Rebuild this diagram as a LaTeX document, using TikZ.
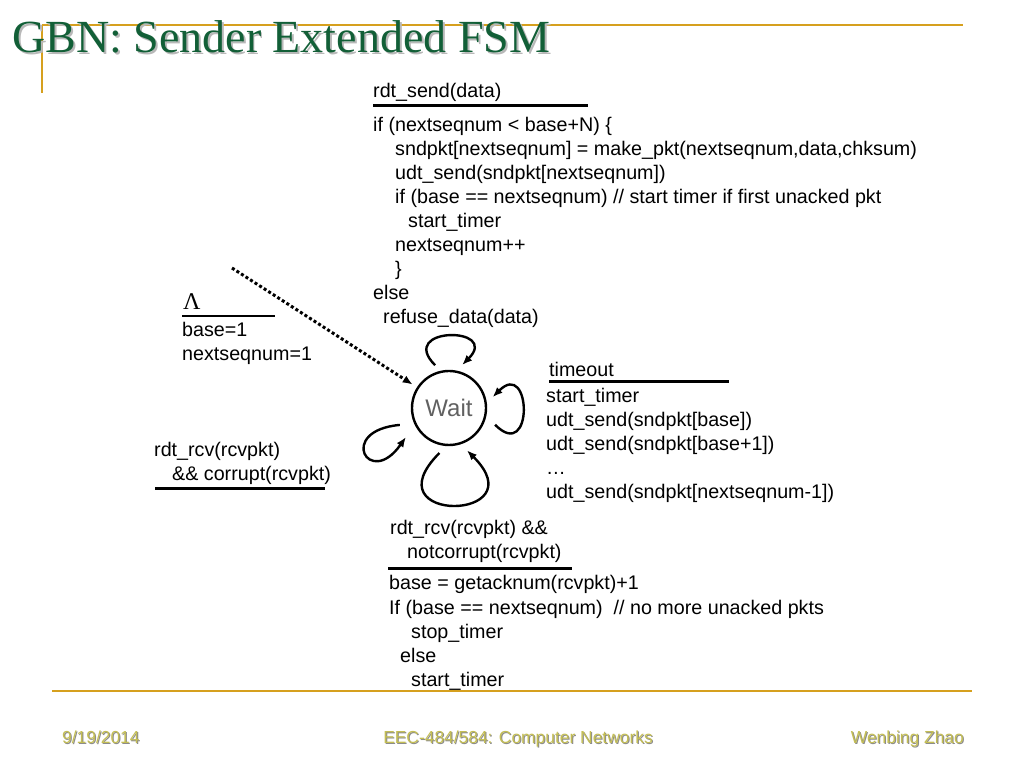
\documentclass[tikz,border=0pt]{standalone}
\usepackage{fontspec}
\setmainfont{Liberation Serif}
\setsansfont{Liberation Sans}
\usetikzlibrary{arrows.meta}

\definecolor{slidegreen}{RGB}{18,95,55}
\definecolor{slidegold}{RGB}{214,160,30}
\definecolor{footolive}{RGB}{196,190,84}

% text with a soft drop shadow behind it
\newcommand\dropshadow[3]{\rlap{\hspace*{#1}\raisebox{-#1}{\textcolor{#2}{#3}}}#3}

\begin{document}
\begin{tikzpicture}[
		x=1pt, y=1pt,
		state/.style={circle, draw=black, line width=2.4pt, minimum size=74pt, inner sep=0pt,
			font=\sffamily\fontsize{24}{28}\selectfont, text=black!62},
		code/.style={anchor=base west, align=left, inner sep=0pt,
			font=\sffamily\fontsize{19.7}{24}\selectfont},
		bar/.style={line width=3pt},
		selfloop/.style={line width=2.4pt, -{Latex[length=10pt,width=8pt]}},
		trim/.style={slidegold, line width=2.5pt},
		foot/.style={inner sep=0pt, text=footolive, font=\sffamily\fontsize{17.4}{20}\selectfont}
		]
	\useasboundingbox (0,0) rectangle (1024,768);
	% slide frame
	\draw [trim] (42,743) -- (963,743);
	\draw [trim] (42,743) -- (42,675);
	\draw [trim] (52,77) -- (972,77);
	\node [anchor=base west, inner sep=0pt, text=slidegreen, font=\rmfamily\fontsize{46}{50}\selectfont]
		(title) at (12,715) {\dropshadow{2pt}{black!28}{GBN: Sender Extended FSM}};

	% the one state
	\node [state] (wait) at (449,360) {Wait};

	% rdt_send (multi-line nodes sit on the baseline of their last line)
	\node [code] (sendevt) at (373,670) {rdt\_send(data)};
	\draw [bar] (373,662) -- (588,662);
	\node [code] (sendact) at (373,444) {if (nextseqnum < base+N) \{\\
		\hspace*{22pt}sndpkt[nextseqnum] = make\_pkt(nextseqnum,data,chksum)\\
		\hspace*{22pt}udt\_send(sndpkt[nextseqnum])\\
		\hspace*{22pt}if (base == nextseqnum) // start timer if first unacked pkt\\
		\hspace*{35pt}start\_timer\\
		\hspace*{22pt}nextseqnum++\\
		\hspace*{22pt}\}\\
		else\\
		\hspace*{10pt}refuse\_data(data)};

	% init
	\node [code, font=\rmfamily\fontsize{24}{24}\selectfont] (initevt) at (183,458) {Λ};
	\draw [line width=2.5pt] (182,452) -- (275,452);
	\node [code] (initact) at (182,407) {base=1\\nextseqnum=1};
	\coordinate (start) at (232,500);
	\draw [line width=3pt, dash pattern=on 3pt off 2.4pt, -{Latex[length=10pt,width=8pt]}, shorten >=5pt]
		(start) -- (wait);

	% corrupt ack
	\node [code] (corruptevt) at (154,287) {rdt\_rcv(rcvpkt)\\\hspace*{18pt}\&\& corrupt(rcvpkt)};
	\draw [bar] (155,279) -- (325,279);

	% timeout
	\node [code] (timeoutevt) at (549,391) {timeout};
	\draw [bar] (549,386) -- (729,386);
	\node [code] (timeoutact) at (546,269) {start\_timer\\udt\_send(sndpkt[base])\\
		udt\_send(sndpkt[base+1])\\…\\udt\_send(sndpkt[nextseqnum-1])};

	% good ack
	\node [code] (ackevt) at (390,209) {rdt\_rcv(rcvpkt) \&\&\\\hspace*{17pt}notcorrupt(rcvpkt)};
	\draw [bar] (388,199) -- (572,199);
	\node [code] (ackact) at (389,82) {base = getacknum(rcvpkt)+1\\
		If (base == nextseqnum) ~// no more unacked pkts\\
		\hspace*{22pt}stop\_timer\\
		\hspace*{11pt}else\\
		\hspace*{22pt}start\_timer};

	% self loops
	\draw [selfloop] ([shift={(108:45)}]wait.center) .. controls +(135:55) and +(45:55) .. ([shift={(73:45)}]wait.center);
	\draw [selfloop] ([shift={(-20:49)}]wait.center) .. controls +(-45:55) and +(45:55) .. ([shift={(14:45)}]wait.center);
	\draw [selfloop] ([shift={(199:52)}]wait.center) .. controls +(185:64) and +(235:64) .. ([shift={(214:52)}]wait.center);
	\draw [selfloop] ([shift={(258:46)}]wait.center) .. controls +(225:101) and +(315:101) .. ([shift={(293:46)}]wait.center);

	% footer
	\node [foot, anchor=base west] (date) at (62,25) {\dropshadow{1pt}{black!45}{9/19/2014}};
	\node [foot, anchor=base] (course) at (518,25) {\dropshadow{1pt}{black!45}{EEC-484/584: Computer Networks}};
	\node [foot, anchor=base east] (author) at (964,25) {\dropshadow{1pt}{black!45}{Wenbing Zhao}};
\end{tikzpicture}
\end{document}
